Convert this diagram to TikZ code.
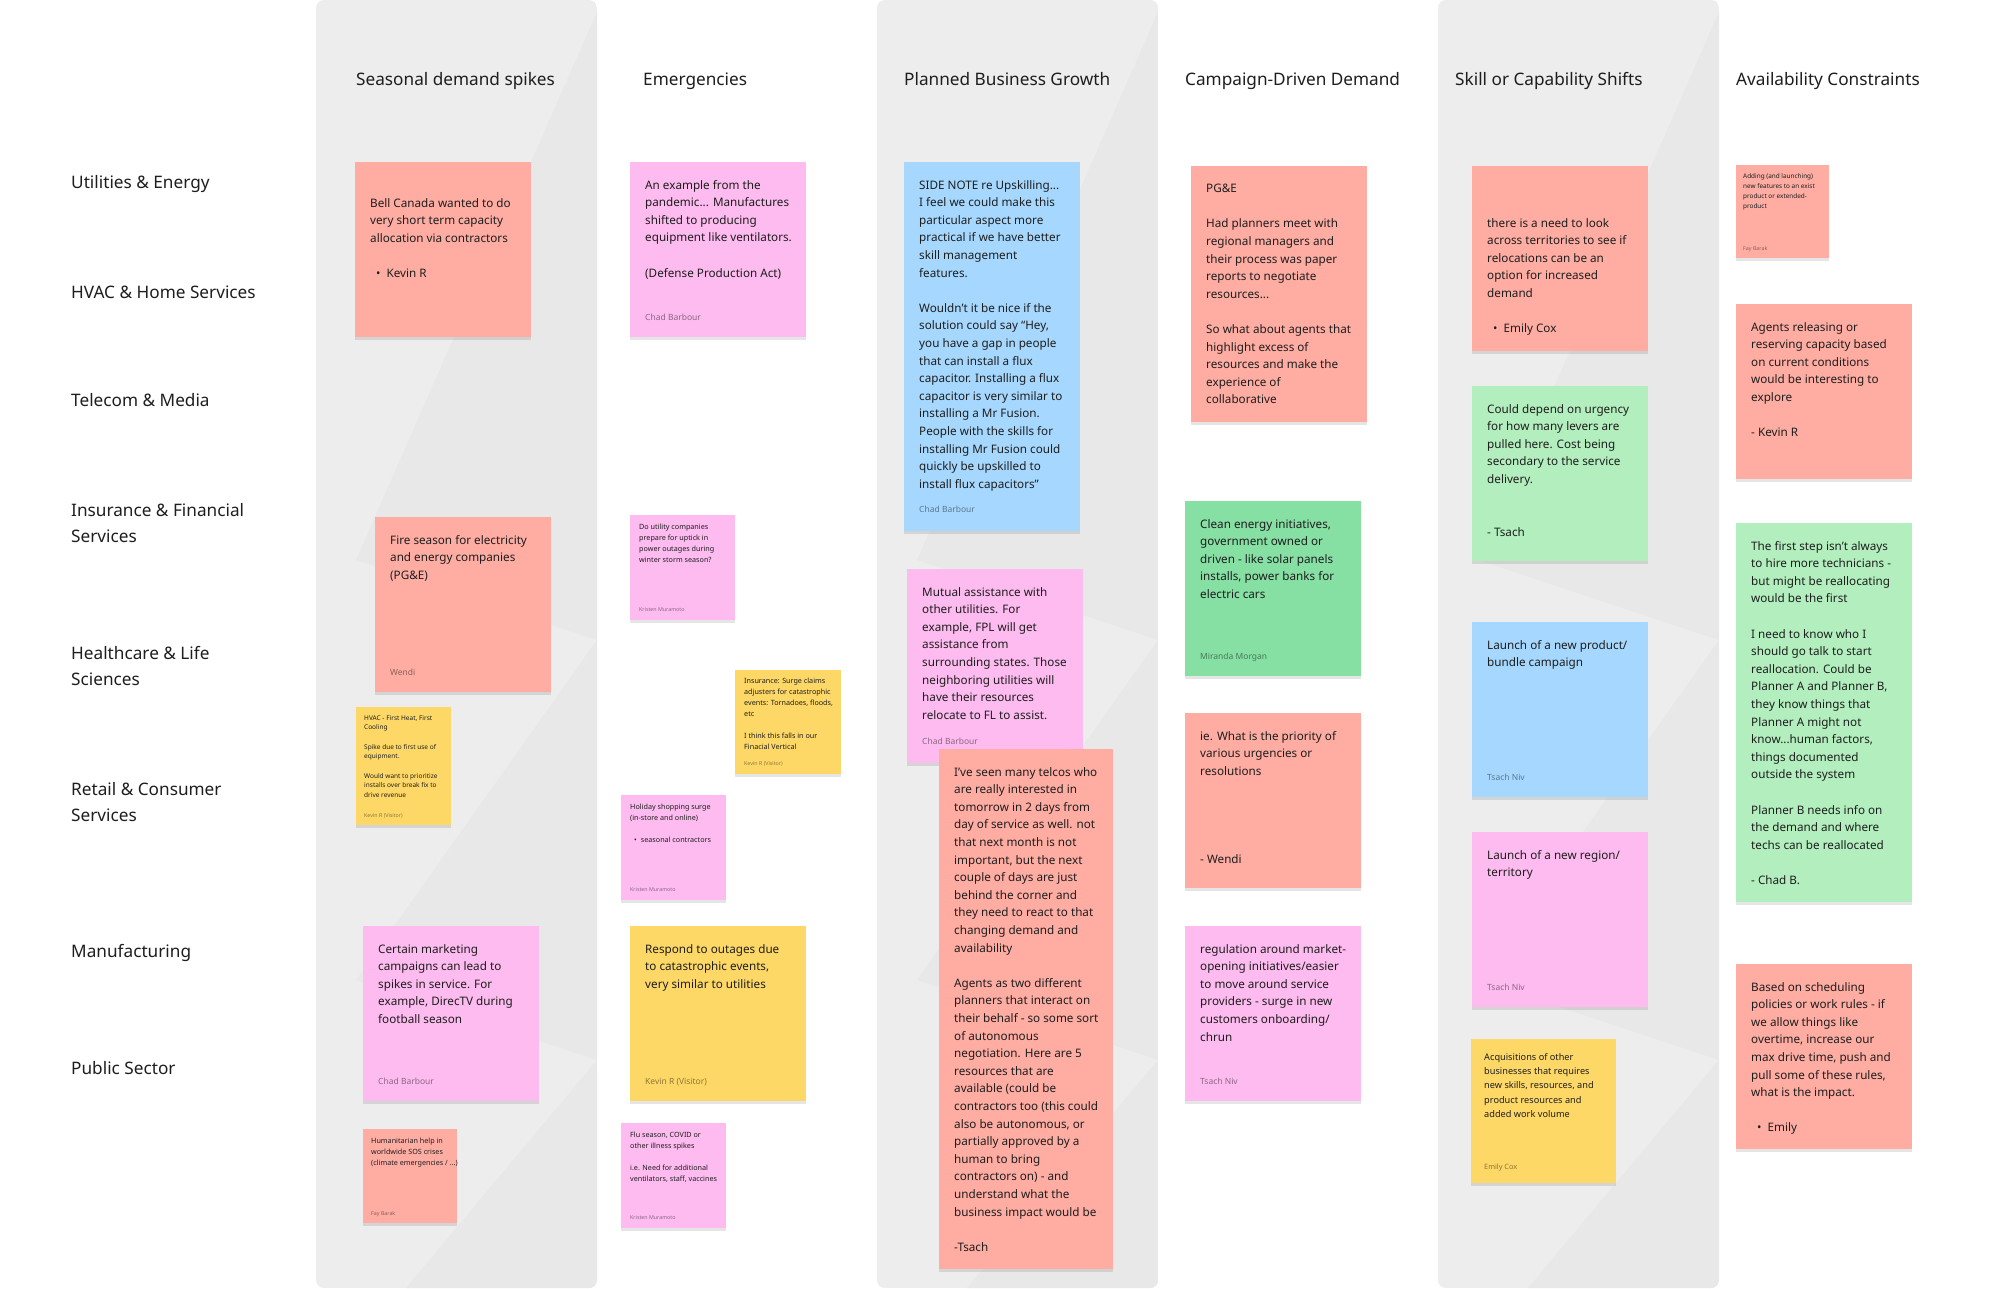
\documentclass[tikz,border=0pt]{standalone}
\usepackage{fontspec}
\setmainfont{Noto Sans}
\usetikzlibrary{positioning,calc,shadows}
\definecolor{colgrey}{HTML}{EDEDED}
\definecolor{colshade}{HTML}{E8E8E8}
\definecolor{stickysalmon}{HTML}{FFADA3}
\definecolor{stickypink}{HTML}{FDBBEF}
\definecolor{stickyyellow}{HTML}{FED866}
\definecolor{stickyblue}{HTML}{A6D8FF}
\definecolor{stickygreen}{HTML}{86DFA3}
\definecolor{stickymint}{HTML}{B3EFBE}
\definecolor{inktext}{HTML}{1E1E1E}
\tikzset{
    sticky/.style={anchor=north west, inner sep=0pt, draw=none, drop shadow={shadow xshift=0pt, shadow yshift=-3pt, opacity=0.1, fill=black}},
    bigsticky/.style={sticky, minimum width=176pt, minimum height=175pt},
    smallsticky/.style={sticky, minimum width=105pt, minimum height=105pt},
    notetext/.style={inner sep=0pt, align=left, text=inktext, font=\fontsize{11.7}{17.6}\selectfont},
    midtext/.style={notetext, font=\fontsize{9.2}{14.3}\selectfont},
    smalltext/.style={notetext, font=\fontsize{7.2}{11}\selectfont},
    tinytext/.style={notetext, font=\fontsize{6.5}{9.7}\selectfont},
    noteauthor/.style={anchor=base west, inner sep=0pt, text=black, text opacity=0.45, font=\fontsize{8.5}{10}\selectfont},
    midauthor/.style={noteauthor, font=\fontsize{7.3}{9}\selectfont},
    smallauthor/.style={noteauthor, font=\fontsize{5.3}{7}\selectfont},
    colhead/.style={anchor=base west, inner sep=0pt, text=inktext, font=\fontsize{17.2}{20}\selectfont},
    rowlabel/.style={anchor=west, inner sep=0pt, align=left, text=inktext, font=\fontsize{17.2}{26.8}\selectfont}
}
\begin{document}
\begin{tikzpicture}[x=1pt,y=-1pt]
    \useasboundingbox (0,0) rectangle (2000,1288);
    \fill[white] (0,0) rectangle (2000,1288);
    % grey lanes
    \foreach \cx in {316,877,1438} {
        \begin{scope}
            \clip[rounded corners=8pt] (\cx,0) rectangle ++(281,1288);
            \fill[colgrey] (\cx,0) rectangle ++(281,1288);
            \fill[colshade] (\cx+281,12) -- (\cx+40,560) -- (\cx+281,640) -- cycle;
            \fill[colshade] (\cx+281,640) -- (\cx+40,980) -- (\cx+281,1060) -- cycle;
            \fill[colshade] (\cx+281,1060) -- (\cx+90,1288) -- (\cx+281,1288) -- cycle;
        \end{scope}
    }
    % headers
    \node[colhead] (hseasonal) at (356,85) {Seasonal demand spikes};
    \node[colhead] (hemerg) at (643,85) {Emergencies};
    \node[colhead] (hgrowth) at (904,85) {Planned Business Growth};
    \node[colhead] (hcampaign) at (1185,85) {Campaign-Driven Demand};
    \node[colhead] (hskill) at (1455,85) {Skill or Capability Shifts};
    \node[colhead] (havail) at (1736,85) {Availability Constraints};
    % industries
    \node[rowlabel] (rutil) at (71,184) {Utilities \& Energy};
    \node[rowlabel] (rhvac) at (71,292) {HVAC \& Home Services};
    \node[rowlabel] (rtelecom) at (71,400) {Telecom \& Media};
    \node[rowlabel] (rinsur) at (71,523) {Insurance \& Financial\\Services};
    \node[rowlabel] (rhealth) at (71,666) {Healthcare \& Life\\Sciences};
    \node[rowlabel] (rretail) at (71,802) {Retail \& Consumer\\Services};
    \node[rowlabel] (rmanuf) at (71,953) {Manufacturing};
    \node[rowlabel] (rpublic) at (71,1068) {Public Sector};
    % seasonal demand spikes
    \node[bigsticky, fill=stickysalmon] (bell) at (355,162) {};
    \node[notetext, below right=36pt and 15pt of bell.north west] (belltext) {Bell Canada wanted to do\\very short term capacity\\allocation via contractors\\\mbox{}\\\hspace*{6pt}•\hspace{6pt}Kevin R};
    \node[bigsticky, fill=stickysalmon] (fire) at (375,517) {};
    \node[notetext, below right=18pt and 15pt of fire.north west] (firetext) {Fire season for electricity\\and energy companies\\(PG\&E)};
    \node[noteauthor] (fireauthor) at ($(fire.south west)+(15,-17)$) {Wendi};
    \node[sticky, fill=stickyyellow, minimum width=95pt, minimum height=118pt] (hvac) at (356,707) {};
    \node[tinytext, below right=8pt and 8pt of hvac.north west] (hvactext) {HVAC - First Heat, First\\Cooling\\\mbox{}\\Spike due to first use of\\equipment.\\\mbox{}\\Would want to prioritize\\installs over break fix to\\drive revenue};
    \node[smallauthor] (hvacauthor) at ($(hvac.south west)+(8,-8)$) {Kevin R (Visitor)};
    \node[bigsticky, fill=stickypink] (marketing) at (363,926) {};
    \node[notetext, below right=18pt and 15pt of marketing.north west] (marketingtext) {Certain marketing\\campaigns can lead to\\spikes in service. For\\example, DirecTV during\\football season};
    \node[noteauthor] (marketingauthor) at ($(marketing.south west)+(15,-17)$) {Chad Barbour};
    \node[sticky, fill=stickysalmon, minimum width=94pt, minimum height=94pt] (humanit) at (363,1129) {};
    \node[smalltext, below right=9pt and 8pt of humanit.north west] (humanittext) {Humanitarian help in\\worldwide SOS crises\\(climate emergencies / ...)};
    \node[smallauthor] (humanitauthor) at ($(humanit.south west)+(8,-7.5)$) {Fay Barak};
    % emergencies
    \node[bigsticky, fill=stickypink] (pandemic) at (630,162) {};
    \node[notetext, below right=18pt and 15pt of pandemic.north west] (pandemictext) {An example from the\\pandemic... Manufactures\\shifted to producing\\equipment like ventilators.\\\mbox{}\\(Defense Production Act)};
    \node[noteauthor] (pandemicauthor) at ($(pandemic.south west)+(15,-17)$) {Chad Barbour};
    \node[smallsticky, fill=stickypink] (outage) at (630,515) {};
    \node[smalltext, below right=9pt and 9pt of outage.north west] (outagetext) {Do utility companies\\prepare for uptick in\\power outages during\\winter storm season?};
    \node[smallauthor] (outageauthor) at ($(outage.south west)+(9,-9)$) {Kristen Muramoto};
    \node[sticky, fill=stickyyellow, minimum width=106pt, minimum height=104pt] (claims) at (735,670) {};
    \node[smalltext, below right=8pt and 9pt of claims.north west] (claimstext) {Insurance: Surge claims\\adjusters for catastrophic\\events: Tornadoes, floods,\\etc\\\mbox{}\\I think this falls in our\\Finacial Vertical};
    \node[smallauthor] (claimsauthor) at ($(claims.south west)+(9,-9)$) {Kevin R (Visitor)};
    \node[smallsticky, fill=stickypink] (holiday) at (621,795) {};
    \node[smalltext, below right=9pt and 9pt of holiday.north west] (holidaytext) {Holiday shopping surge\\(in-store and online)\\\mbox{}\\\hspace*{4pt}•\hspace{4pt}seasonal contractors};
    \node[smallauthor] (holidayauthor) at ($(holiday.south west)+(9,-9)$) {Kristen Muramoto};
    \node[bigsticky, fill=stickyyellow] (respond) at (630,926) {};
    \node[notetext, below right=18pt and 15pt of respond.north west] (respondtext) {Respond to outages due\\to catastrophic events,\\very similar to utilities};
    \node[noteauthor] (respondauthor) at ($(respond.south west)+(15,-17)$) {Kevin R (Visitor)};
    \node[smallsticky, fill=stickypink] (flu) at (621,1123) {};
    \node[smalltext, below right=9pt and 9pt of flu.north west] (flutext) {Flu season, COVID or\\other illness spikes\\\mbox{}\\i.e. Need for additional\\ventilators, staff, vaccines};
    \node[smallauthor] (fluauthor) at ($(flu.south west)+(9,-9)$) {Kristen Muramoto};
    % planned business growth
    \node[sticky, fill=stickyblue, minimum width=176pt, minimum height=369pt] (sidenote) at (904,162) {};
    \node[notetext, below right=18pt and 15pt of sidenote.north west] (sidenotetext) {SIDE NOTE re Upskilling...\\I feel we could make this\\particular aspect more\\practical if we have better\\skill management\\features.\\\mbox{}\\Wouldn't it be nice if the\\solution could say “Hey,\\you have a gap in people\\that can install a flux\\capacitor. Installing a flux\\capacitor is very similar to\\installing a Mr Fusion.\\People with the skills for\\installing Mr Fusion could\\quickly be upskilled to\\install flux capacitors”};
    \node[noteauthor] (sidenoteauthor) at ($(sidenote.south west)+(15,-19)$) {Chad Barbour};
    \node[sticky, fill=stickypink, minimum width=176pt, minimum height=194pt] (mutual) at (907,569) {};
    \node[notetext, below right=18pt and 15pt of mutual.north west] (mutualtext) {Mutual assistance with\\other utilities. For\\example, FPL will get\\assistance from\\surrounding states. Those\\neighboring utilities will\\have their resources\\relocate to FL to assist.};
    \node[noteauthor] (mutualauthor) at ($(mutual.south west)+(15,-19)$) {Chad Barbour};
    \node[sticky, fill=stickysalmon, minimum width=174pt, minimum height=520pt] (telcos) at (939,749) {};
    \node[notetext, below right=18pt and 15pt of telcos.north west] (telcostext) {I've seen many telcos who\\are really interested in\\tomorrow in 2 days from\\day of service as well. not\\that next month is not\\important, but the next\\couple of days are just\\behind the corner and\\they need to react to that\\changing demand and\\availability\\\mbox{}\\Agents as two different\\planners that interact on\\their behalf - so some sort\\of autonomous\\negotiation. Here are 5\\resources that are\\available (could be\\contractors too (this could\\also be autonomous, or\\partially approved by a\\human to bring\\contractors on) - and\\understand what the\\business impact would be\\\mbox{}\\-Tsach};
    % campaign-driven demand
    \node[sticky, fill=stickysalmon, minimum width=176pt, minimum height=256pt] (pge) at (1191,166) {};
    \node[notetext, below right=18pt and 15pt of pge.north west] (pgetext) {PG\&E\\\mbox{}\\Had planners meet with\\regional managers and\\their process was paper\\reports to negotiate\\resources...\\\mbox{}\\So what about agents that\\highlight excess of\\resources and make the\\experience of\\collaborative};
    \node[bigsticky, fill=stickygreen] (clean) at (1185,501) {};
    \node[notetext, below right=18pt and 15pt of clean.north west] (cleantext) {Clean energy initiatives,\\government owned or\\driven - like solar panels\\installs, power banks for\\electric cars};
    \node[noteauthor] (cleanauthor) at ($(clean.south west)+(15,-17)$) {Miranda Morgan};
    \node[bigsticky, fill=stickysalmon] (priority) at (1185,713) {};
    \node[notetext, below right=18pt and 15pt of priority.north west] (prioritytext) {ie. What is the priority of\\various urgencies or\\resolutions\\\mbox{}\\\mbox{}\\\mbox{}\\\mbox{}\\- Wendi};
    \node[bigsticky, fill=stickypink] (regulation) at (1185,926) {};
    \node[notetext, below right=18pt and 15pt of regulation.north west] (regulationtext) {regulation around market-\\opening initiatives/easier\\to move around service\\providers - surge in new\\customers onboarding/\\chrun};
    \node[noteauthor] (regulationauthor) at ($(regulation.south west)+(15,-17)$) {Tsach Niv};
    % skill or capability shifts
    \node[sticky, fill=stickysalmon, minimum width=176pt, minimum height=185pt] (relocate) at (1472,166) {};
    \node[notetext, below right=52pt and 15pt of relocate.north west] (relocatetext) {there is a need to look\\across territories to see if\\relocations can be an\\option for increased\\demand\\\mbox{}\\\hspace*{6pt}•\hspace{6pt}Emily Cox};
    \node[bigsticky, fill=stickymint] (urgency) at (1472,386) {};
    \node[notetext, below right=18pt and 15pt of urgency.north west] (urgencytext) {Could depend on urgency\\for how many levers are\\pulled here. Cost being\\secondary to the service\\delivery.\\\mbox{}\\\mbox{}\\- Tsach};
    \node[bigsticky, fill=stickyblue] (product) at (1472,622) {};
    \node[notetext, below right=18pt and 15pt of product.north west] (producttext) {Launch of a new product/\\bundle campaign};
    \node[noteauthor] (productauthor) at ($(product.south west)+(15,-17)$) {Tsach Niv};
    \node[bigsticky, fill=stickypink] (region) at (1472,832) {};
    \node[notetext, below right=18pt and 15pt of region.north west] (regiontext) {Launch of a new region/\\territory};
    \node[noteauthor] (regionauthor) at ($(region.south west)+(15,-17)$) {Tsach Niv};
    \node[sticky, fill=stickyyellow, minimum width=145pt, minimum height=144pt] (acquis) at (1471,1039) {};
    \node[midtext, below right=14pt and 13pt of acquis.north west] (acquistext) {Acquisitions of other\\businesses that requires\\new skills, resources, and\\product resources and\\added work volume};
    \node[midauthor] (acquisauthor) at ($(acquis.south west)+(13,-14)$) {Emily Cox};
    % availability constraints
    \node[sticky, fill=stickysalmon, minimum width=93pt, minimum height=93pt] (features) at (1736,165) {};
    \node[tinytext, below right=8pt and 7pt of features.north west, font=\fontsize{6.4}{10.3}\selectfont] (featurestext) {Adding (and launching)\\new features to an exist\\product or extended-\\product};
    \node[smallauthor] (featuresauthor) at ($(features.south west)+(7,-7.5)$) {Fay Barak};
    \node[bigsticky, fill=stickysalmon] (release) at (1736,304) {};
    \node[notetext, below right=18pt and 15pt of release.north west] (releasetext) {Agents releasing or\\reserving capacity based\\on current conditions\\would be interesting to\\explore\\\mbox{}\\- Kevin R};
    \node[sticky, fill=stickymint, minimum width=176pt, minimum height=379pt] (firststep) at (1736,523) {};
    \node[notetext, below right=18pt and 15pt of firststep.north west] (firststeptext) {The first step isn't always\\to hire more technicians -\\but might be reallocating\\would be the first\\\mbox{}\\I need to know who I\\should go talk to start\\reallocation. Could be\\Planner A and Planner B,\\they know things that\\Planner A might not\\know...human factors,\\things documented\\outside the system\\\mbox{}\\Planner B needs info on\\the demand and where\\techs can be reallocated\\\mbox{}\\- Chad B.};
    \node[sticky, fill=stickysalmon, minimum width=176pt, minimum height=185pt] (rules) at (1736,964) {};
    \node[notetext, below right=18pt and 15pt of rules.north west] (rulestext) {Based on scheduling\\policies or work rules - if\\we allow things like\\overtime, increase our\\max drive time, push and\\pull some of these rules,\\what is the impact.\\\mbox{}\\\hspace*{6pt}•\hspace{6pt}Emily};
\end{tikzpicture}
\end{document}
